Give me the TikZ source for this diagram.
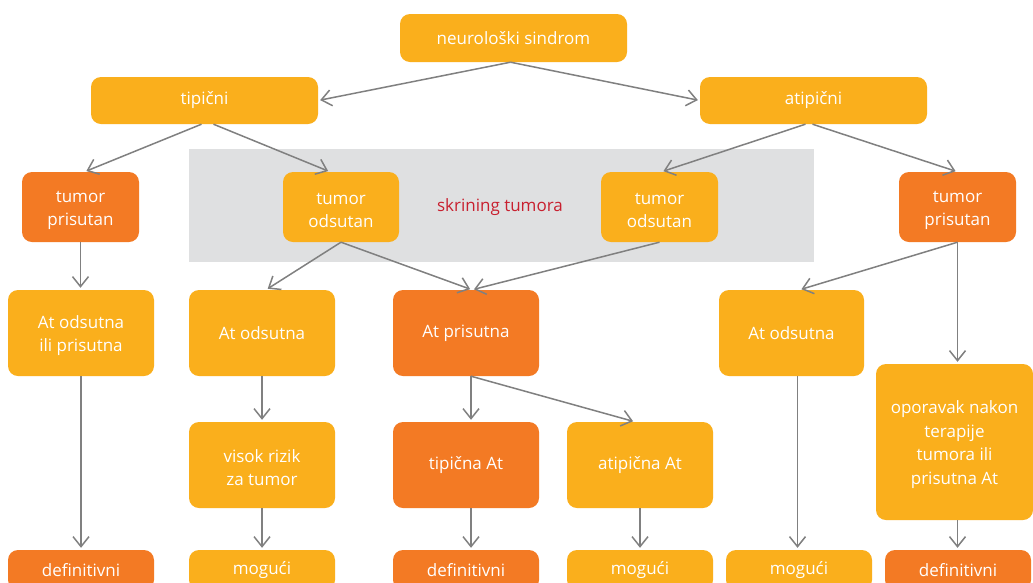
\documentclass[tikz,border=0pt]{standalone}
\usepackage{fontspec}
\setmainfont{Open Sans}
\usetikzlibrary{arrows.meta}
\definecolor{lorange}{HTML}{FAAF1C}
\definecolor{dorange}{HTML}{F37A24}
\definecolor{grayband}{HTML}{DFE0E1}
\definecolor{arrgray}{HTML}{808080}
\definecolor{skred}{HTML}{C8202F}
\newcommand{\boxfont}{\fontsize{17}{23.5}\selectfont}
\newcommand{\upstrut}{\rule{0pt}{18pt}}
\tikzset{
  box/.style={rounded corners=10pt, inner sep=0pt, align=center, text=white, font=\boxfont},
  one/.style={execute at begin node={\rule{0pt}{13pt}}},
  lo/.style={box, fill=lorange},
  dk/.style={box, fill=dorange},
  arr/.style={draw=arrgray, line width=1.5pt, shorten >=2pt, -{Straight Barb[length=10pt,width=16pt,line width=1.5pt]}}
}
\begin{document}
\begin{tikzpicture}[x=1pt,y=-1pt]
\useasboundingbox (0,0) rectangle (1033,582);
\clip (0,0) rectangle (1033,582);
\fill[white] (0,0) rectangle (1033,582);
% screening band
\fill[grayband] (189,149) rectangle (814,262);
\node[text=skred, font=\boxfont] (skr) at (500,207) {skrining tumora};
% row 1-2
\node[lo, one, minimum width=227pt, minimum height=48pt] (neuro) at (513.5,38) {neurološki sindrom};
\node[lo, one, minimum width=227pt, minimum height=47pt] (tip) at (204.5,100.5) {tipični};
\node[lo, one, minimum width=227pt, minimum height=47pt] (atip) at (813.5,100.5) {atipični};
% row 3
\node[dk, minimum width=117pt, minimum height=70pt] (tpL) at (80.5,207) {\upstrut tumor\\prisutan};
\node[lo, minimum width=116pt, minimum height=70pt] (toL) at (341,207) {\upstrut tumor\\odsutan};
\node[lo, minimum width=117pt, minimum height=70pt] (toR) at (659.5,207) {\upstrut tumor\\odsutan};
\node[dk, minimum width=117pt, minimum height=70pt] (tpR) at (957.5,207) {\upstrut tumor\\prisutan};
% row 4
\node[lo, minimum width=146pt, minimum height=86pt] (aoip) at (81,333) {\upstrut At odsutna\\ili prisutna};
\node[lo, one, minimum width=146pt, minimum height=86pt] (aoL) at (262,333) {At odsutna};
\node[dk, one, minimum width=146pt, minimum height=86pt] (ap) at (466,333) {At prisutna};
\node[lo, one, minimum width=145pt, minimum height=86pt] (aoR) at (791.5,333) {At odsutna};
% row 5
\node[lo, minimum width=146pt, minimum height=86pt] (vr) at (262,465) {\upstrut visok rizik\\za tumor};
\node[dk, one, minimum width=146pt, minimum height=86pt] (ta) at (466,465) {tipična At};
\node[lo, one, minimum width=146pt, minimum height=86pt] (aa) at (640,465) {atipična At};
\node[lo, minimum width=157pt, minimum height=156pt] (op) at (954.5,442) {\upstrut oporavak nakon\\terapije\\tumora ili\\prisutna At};
% bottom row
\node[dk, one, minimum width=146pt, minimum height=40pt] (def1) at (81,570) {definitivni};
\node[lo, one, minimum width=146pt, minimum height=40pt] (mog1) at (262,570) {mogući};
\node[dk, one, minimum width=146pt, minimum height=40pt] (def2) at (466,570) {definitivni};
\node[lo, one, minimum width=146pt, minimum height=40pt] (mog2) at (640,570) {mogući};
\node[lo, one, minimum width=146pt, minimum height=40pt] (mog3) at (799,570) {mogući};
\node[dk, one, minimum width=146pt, minimum height=40pt] (def3) at (958,570) {definitivni};
% connectors
\draw[arr] ([xshift=-3pt]neuro.south) -- (tip.east);
\draw[arr] ([xshift=-3pt]neuro.south) -- (atip.west);
\draw[arr] ([xshift=-3pt]tip.south) -- ([xshift=4pt]tpL.north);
\draw[arr] ([xshift=9pt]tip.south) -- ([xshift=-11pt]toL.north);
\draw[arr] ([xshift=-8pt]atip.south) -- ([xshift=2pt]toR.north);
\draw[arr] ([xshift=-1pt]atip.south) -- (tpR.north);
\draw[arr] (tpL.south) -- (tpL.south |- aoip.north);
\draw[arr] (toL.south) -- ([xshift=4pt]aoL.north);
\draw[arr] (toL.south) -- ([xshift=6pt]ap.north);
\draw[arr] (toR.south) -- ([xshift=6pt]ap.north);
\draw[arr] (tpR.south) -- ([xshift=8pt]aoR.north);
\draw[arr] (tpR.south) -- (tpR.south |- op.north);
\draw[arr] (aoip.south) -- (def1.north);
\draw[arr] (aoL.south) -- (vr.north);
\draw[arr] (vr.south) -- (mog1.north);
\draw[arr] ([xshift=5pt]ap.south) -- ([xshift=5pt]ta.north);
\draw[arr] ([xshift=5pt]ap.south) -- ([xshift=-5pt]aa.north);
\draw[arr] ([xshift=5pt]ta.south) -- ([xshift=5pt]def2.north);
\draw[arr] (aa.south) -- (mog2.north);
\draw[arr] ([xshift=6pt]aoR.south) -- ([xshift=6pt]aoR.south |- mog3.north);
\draw[arr] ([xshift=3pt]op.south) -- ([xshift=3pt]op.south |- def3.north);
\end{tikzpicture}
\end{document}
